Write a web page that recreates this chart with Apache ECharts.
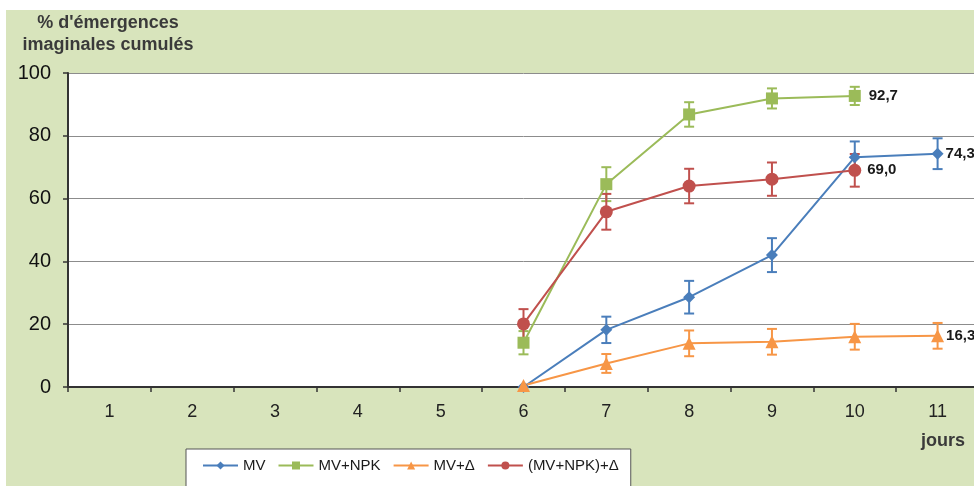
<!DOCTYPE html>
<html><head><meta charset="utf-8">
<script src="https://cdn.jsdelivr.net/npm/echarts@6/dist/echarts.min.js"></script>
<style>
html,body{margin:0;padding:0;background:#fff;overflow:hidden;width:974px;height:486px;}
#wrap{position:absolute;left:6px;top:10px;width:968px;height:476px;background:#d8e4bc;}
#c{position:absolute;left:0;top:0;width:1010px;height:486px;}
</style></head>
<body><div id="wrap"></div><div id="c"></div>
<script>
var categories = ['1','2','3','4','5','6','7','8','9','10','11'];
var seriesNames = ['MV','MV+NPK','MV+\u0394','(MV+NPK)+\u0394'];
var mv      = [null,null,null,null,null,0,18.2,28.6,42.0,73.2,74.3];
var mvNpk   = [null,null,null,null,null,14.1,64.6,86.8,91.9,92.7,null];
var mvD     = [null,null,null,null,null,0.5,7.5,13.9,14.4,16.0,16.3];
var mvNpkD  = [null,null,null,null,null,20.1,55.8,64.0,66.2,69.0,null];
var mvErr     = [null,null,null,null,null,0,4.2,5.2,5.4,5.0,4.9];
var mvNpkErr  = [null,null,null,null,null,3.7,5.4,3.9,3.2,2.9,null];
var mvDErr    = [null,null,null,null,null,0,3.0,4.1,4.1,4.1,4.1];
var mvNpkDErr = [null,null,null,null,null,4.7,5.7,5.5,5.3,5.2,null];
var labelIndex = [10,9,10,9];
var yTicks = [0,20,40,60,80,100];

var FONT = 'Liberation Sans, Arial, sans-serif';
var colors = ['#4a7ebb','#9bbb59','#f79646','#c0504d'];
var symbols = ['diamond','rect','triangle','circle'];
var symSizes = [12,12,13,13];
var labelDist = [2,8,2,6];
var vals = [mv,mvNpk,mvD,mvNpkD];
var errs = [mvErr,mvNpkErr,mvDErr,mvNpkDErr];

var series = [];
vals.forEach(function(v,k){
  var errData = [];
  v.forEach(function(y,i){
    if (y!=null && errs[k][i]) errData.push([i, y-errs[k][i], y+errs[k][i]]);
  });
  series.push({
    type:'custom', name:seriesNames[k]+' err', data:errData, z:2, silent:true,
    renderItem:function(params, api){
      var x = api.value(0);
      var lo = api.coord([x, api.value(1)]);
      var hi = api.coord([x, api.value(2)]);
      var hw = 5;
      var st = {stroke:colors[k], lineWidth:2};
      return {type:'group', children:[
        {type:'line', shape:{x1:lo[0],y1:lo[1],x2:hi[0],y2:hi[1]}, style:st},
        {type:'line', shape:{x1:lo[0]-hw,y1:lo[1],x2:lo[0]+hw,y2:lo[1]}, style:st},
        {type:'line', shape:{x1:hi[0]-hw,y1:hi[1],x2:hi[0]+hw,y2:hi[1]}, style:st}
      ]};
    }
  });
});
vals.forEach(function(v,k){
  series.push({
    type:'line', name:seriesNames[k], z:3,
    data:v.map(function(y,i){
      if (y==null) return '-';
      if (i===labelIndex[k]) return {value:y, label:{show:true}};
      return y;
    }),
    symbol:symbols[k], symbolSize:symSizes[k], showSymbol:true,
    connectNulls:false,
    itemStyle:{color:colors[k]},
    lineStyle:{color:colors[k], width:2},
    label:{show:false, position:'right', distance:labelDist[k], color:'#1a1a1a',
      fontFamily:FONT, fontWeight:'bold', fontSize:15,
      formatter:function(p){return p.value.toFixed(1).replace('.',',');}}
  });
});

var chart = echarts.init(document.getElementById('c'), null, {renderer:'canvas'});
chart.setOption({
  animation:false,
  backgroundColor:'transparent',
  graphic:[
    {type:'text', x:108, y:14, style:{text:"% d'\u00e9mergences", fontFamily:FONT, fontSize:18, fontWeight:'bold', fill:'#3a3a3a', align:'center', textAlign:'center'}},
    {type:'text', x:108, y:36, style:{text:"imaginales cumul\u00e9s", fontFamily:FONT, fontSize:18, fontWeight:'bold', fill:'#3a3a3a', align:'center', textAlign:'center'}},
    {type:'text', x:921, y:432, style:{text:"jours", fontFamily:FONT, fontSize:18, fontWeight:'bold', fill:'#3a3a3a'}}
  ],
  legend:{data:seriesNames, left:186, top:449, orient:'horizontal',
    backgroundColor:'#ffffff', borderColor:'#555', borderWidth:1,
    padding:[9,12,20,16], itemGap:12, itemWidth:35, itemHeight:10,
    textStyle:{fontFamily:FONT, fontSize:15, color:'#1a1a1a'}},
  grid:{left:68, top:73, width:911, height:314, show:true, backgroundColor:'#ffffff', borderWidth:0, outerBoundsMode:'none', containLabel:false},
  xAxis:{type:'category', data:categories, boundaryGap:true,
    axisLine:{lineStyle:{color:'#333', width:2}},
    axisTick:{show:true, length:5, lineStyle:{color:'#333', width:1.5}},
    axisLabel:{fontFamily:FONT, fontSize:18, color:'#222', margin:16},
    splitLine:{show:false}},
  yAxis:{type:'value', min:0, max:100, interval:20,
    axisLine:{show:true, lineStyle:{color:'#333', width:2}},
    axisTick:{show:true, length:5, lineStyle:{color:'#333', width:1.5}},
    axisLabel:{fontFamily:FONT, fontSize:20, color:'#111', margin:17,
      formatter:function(v){return yTicks.indexOf(v)>=0 ? String(v) : '';}},
    splitLine:{show:true, lineStyle:{color:'#8c8c8c', width:1}}},
  series:series
});
</script></body></html>
